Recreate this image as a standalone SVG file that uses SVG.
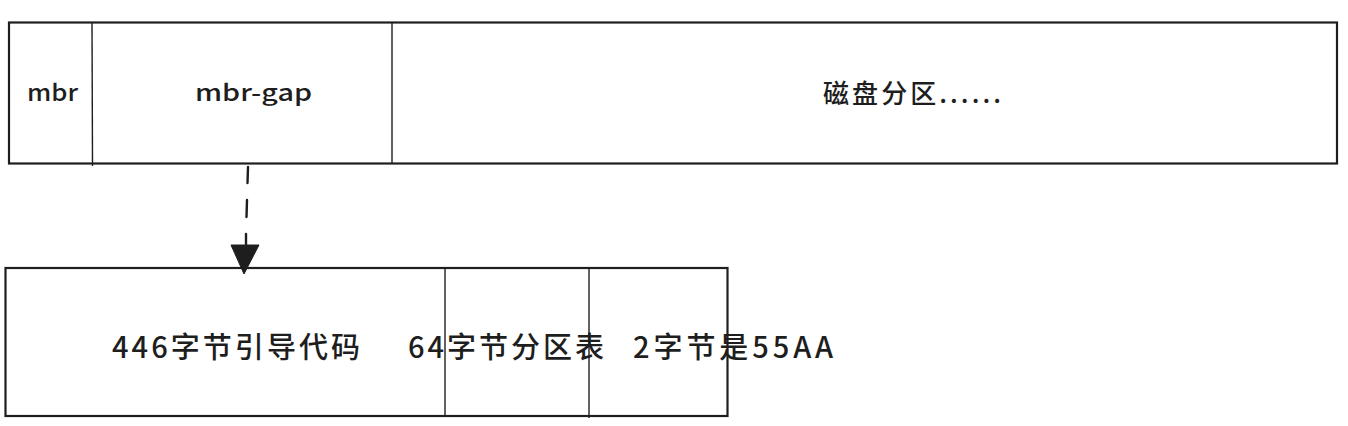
<svg xmlns="http://www.w3.org/2000/svg" width="1348" height="426" viewBox="0 0 1348 426">
<defs>
<style>
.box{fill:#ffffff;stroke:#1e1e1e;stroke-width:2.2}
.div{fill:none;stroke:#1e1e1e;stroke-width:1.4}
.t{font-family:"Noto Sans CJK SC","Noto Sans",sans-serif;font-weight:500;fill:#1e1e1e}
.dash{fill:none;stroke:#1e1e1e;stroke-width:2.4;stroke-linecap:round}
</style>
</defs>
<rect width="1348" height="426" fill="#ffffff"/>
<g id="disk">
<rect class="box" x="9" y="22.5" width="1328" height="141"/>
<line class="div" x1="92" y1="22" x2="92.5" y2="166"/>
<line class="div" x1="392" y1="22" x2="392" y2="163"/>
</g>
<g id="mbr">
<text class="t" x="27" y="101" font-size="23" textLength="51" lengthAdjust="spacingAndGlyphs">mbr</text>
</g>
<g id="mbr-gap">
<text class="t" x="195" y="101" font-size="23" textLength="117" lengthAdjust="spacingAndGlyphs">mbr-gap</text>
</g>
<g id="partitions">
<text class="t" x="823" y="103" font-size="26" textLength="178" lengthAdjust="spacing">磁盘分区......</text>
</g>
<g id="mbr-detail">
<rect class="box" x="5.5" y="268" width="722" height="148"/>
<line class="div" x1="445" y1="268" x2="445" y2="416"/>
<line class="div" x1="589" y1="268" x2="589" y2="418"/>
</g>
<g id="boot-code">
<text class="t" x="112" y="358" font-size="29" textLength="248" lengthAdjust="spacing">446字节引导代码</text>
</g>
<g id="partition-table">
<text class="t" x="408" y="358" font-size="29" textLength="196" lengthAdjust="spacing">64字节分区表</text>
</g>
<g id="signature">
<text class="t" x="633" y="358" font-size="29" textLength="200" lengthAdjust="spacing">2字节是55AA</text>
</g>
<g id="connectors">
<line class="dash" x1="248" y1="167" x2="247.5" y2="183"/>
<line class="dash" x1="247" y1="200" x2="246.5" y2="217"/>
<line class="dash" x1="246" y1="234" x2="246" y2="246"/>
<polygon points="231,245 259,245 244,274" fill="#1e1e1e" stroke="#1e1e1e" stroke-width="1" stroke-linejoin="round"/>
</g>
</svg>
